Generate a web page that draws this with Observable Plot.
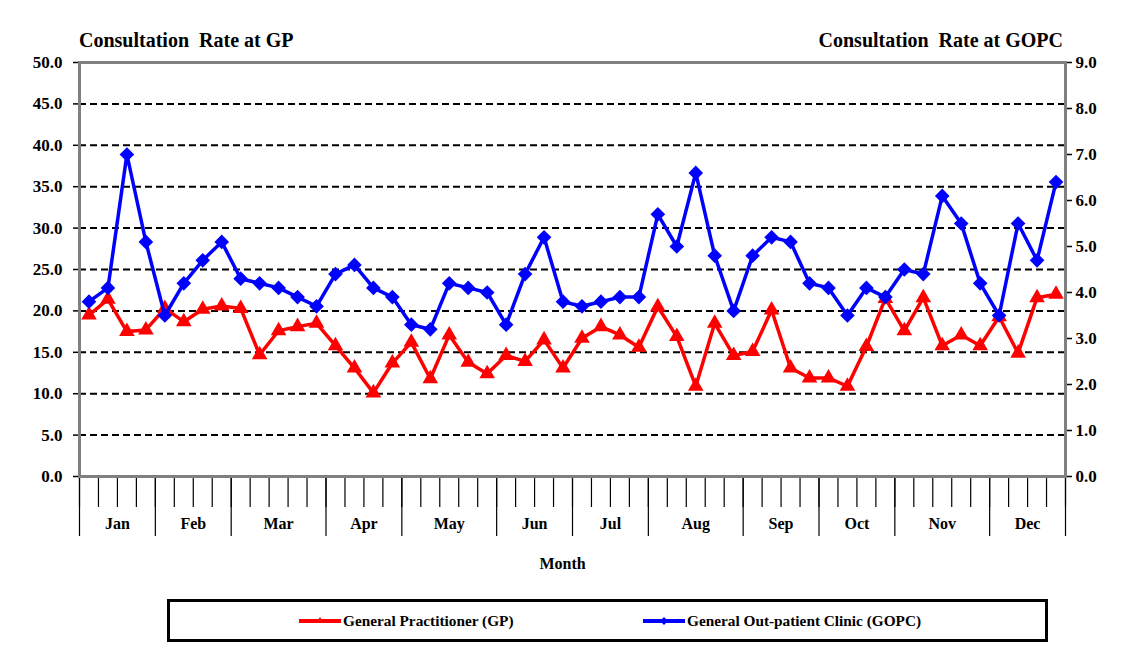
<!DOCTYPE html>
<html><head><meta charset="utf-8">
<script src="https://cdn.jsdelivr.net/npm/d3@7"></script>
<script src="https://cdn.jsdelivr.net/npm/@observablehq/plot@0.6"></script>
<style>
body{margin:0;background:#fff;font-family:"Liberation Serif","Times New Roman",serif;}
#wrap{position:relative;width:1129px;height:652px;overflow:hidden;}
.title{position:absolute;top:29px;font-weight:bold;font-size:20px;white-space:pre;line-height:22px;}
#chart{position:absolute;left:0;top:50px;}
#legend{position:absolute;left:167px;top:599px;width:881px;height:43px;box-sizing:border-box;border:3px solid #000;font-weight:bold;font-size:15.3px;}
.entry{position:absolute;top:10px;display:flex;align-items:center;height:18px;}
.entry svg{display:block;margin-right:2px;}
</style></head>
<body><div id="wrap">
<div class="title" style="left:79px">Consultation  Rate at GP</div>
<div class="title" style="right:66px">Consultation  Rate at GOPC</div>
<div id="chart"></div>
<div id="legend"></div>
</div>
<script>
const months = ["Jan","Feb","Mar","Apr","May","Jun","Jul","Aug","Sep","Oct","Nov","Dec"];
const weeksPerMonth = [4,4,5,4,5,4,4,5,4,4,5,4];
const gpRate = [19.5,21.4,17.5,17.7, 20.3,18.7,20.2,20.6, 20.3,14.7,17.6,18.1,18.5,
  15.8,13.1,10.1,13.7, 16.2,11.8,17.1,13.8,12.4, 14.6,13.9,16.5,13.1,
  16.7,18.1,17.1,15.6, 20.5,16.9,10.9,18.5,14.6, 15.1,20.1,13.1,11.9,
  11.9,10.9,15.7,21.5, 17.6,21.6,15.8,17.1,15.8, 19.3,14.9,21.6,22.0];
const gopcRate = [3.8,4.1,7.0,5.1, 3.5,4.2,4.7,5.1, 4.3,4.2,4.1,3.9,3.7,
  4.4,4.6,4.1,3.9, 3.3,3.2,4.2,4.1,4.0, 3.3,4.4,5.2,3.8,
  3.7,3.8,3.9,3.9, 5.7,5.0,6.6,4.8,3.6, 4.8,5.2,5.1,4.2,
  4.1,3.5,4.1,3.9, 4.5,4.4,6.1,5.5,4.2, 3.5,5.5,4.7,6.4];
const leftTicks = [0,5,10,15,20,25,30,35,40,45,50];
const rightTicks = [0,1,2,3,4,5,6,7,8,9];
const gridValues = [5,10,15,20,25,30,35,40,45];
const seriesNames = ["General Practitioner (GP)", "General Out-patient Clinic (GOPC)"];

const leftMax = 50, rightMax = 9;
const toLeft = v => v * leftMax / rightMax;
const nWeeks = gpRate.length;
const weekEdges = d3.range(0, nWeeks + 1);
const monthEdges = [0, ...d3.cumsum(weeksPerMonth)];
const monthLabels = months.map((m, i) => ({m, c: (monthEdges[i] + monthEdges[i + 1]) / 2}));

const chart = Plot.plot({
  width: 1129, height: 540,
  marginLeft: 79, marginRight: 64, marginTop: 12, marginBottom: 114,
  style: {fontFamily: "'Liberation Serif','Times New Roman',serif", fontSize: "17px", fontWeight: "bold", color: "#000", background: "#fff"},
  x: {domain: [0, nWeeks], axis: null},
  y: {domain: [0, leftMax], axis: null},
  marks: [
    Plot.ruleY(gridValues, {stroke: "#000", strokeWidth: 2, strokeDasharray: "7,4"}),
    Plot.axisY(leftTicks, {anchor: "left", tickSize: 6, tickPadding: 11, tickFormat: d => d.toFixed(1), stroke: "#000", strokeWidth: 1.5, label: null}),
    Plot.axisY(rightTicks.map(toLeft), {anchor: "right", tickSize: 6, tickPadding: 4, tickFormat: d => (d * rightMax / leftMax).toFixed(1), stroke: "#000", strokeWidth: 1.5, label: null}),
    Plot.axisX(weekEdges, {anchor: "bottom", tickSize: 31, tickFormat: () => "", stroke: "#000", strokeWidth: 1.2, label: null}),
    Plot.axisX(monthEdges, {anchor: "bottom", tickSize: 60, tickFormat: () => "", stroke: "#000", strokeWidth: 1.2, label: null}),
    Plot.text(monthLabels, {x: "c", text: "m", frameAnchor: "bottom", dy: 52, fill: "#000", fontSize: 16}),
    Plot.text(["Month"], {frameAnchor: "bottom", dx: -10, dy: 92, fill: "#000", fontSize: 16}),
    Plot.frame({stroke: "#808080", strokeWidth: 3}),
    Plot.line(gpRate, {x: (d, i) => i + 0.5, y: d => d, stroke: "#ff0000", strokeWidth: 3.5}),
    Plot.dot(gpRate, {x: (d, i) => i + 0.5, y: d => d, symbol: "triangle", r: 5.8, fill: "#ff0000", stroke: "none"}),
    Plot.line(gopcRate, {x: (d, i) => i + 0.5, y: d => toLeft(d), stroke: "#0000ff", strokeWidth: 3.5}),
    Plot.dot(gopcRate, {x: (d, i) => i + 0.5, y: d => toLeft(d), symbol: "diamond2", r: 6.6, fill: "#0000ff", stroke: "none"})
  ]
});
document.getElementById("chart").appendChild(chart);

const legend = document.getElementById("legend");
const entries = [
  {name: seriesNames[0], color: "#ff0000", left: 129, marker: '<polygon points="21,5 25,11 17,11" fill="#ff0000"/>'},
  {name: seriesNames[1], color: "#0000ff", left: 473, marker: '<polygon points="21,5 25,9 21,13 17,9" fill="#0000ff"/>'}
];
entries.forEach(e => {
  const div = document.createElement("div");
  div.className = "entry";
  div.style.left = e.left + "px";
  div.innerHTML = `<svg width="42" height="18"><line x1="0" x2="42" y1="9" y2="9" stroke="${e.color}" stroke-width="4"/>${e.marker}</svg><span>${e.name}</span>`;
  legend.appendChild(div);
});
</script>
</body></html>
